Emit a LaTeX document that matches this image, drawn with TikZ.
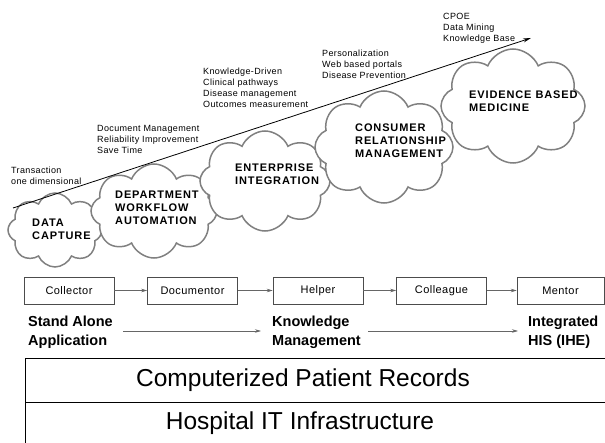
\documentclass[tikz,border=0pt]{standalone}
\usepackage{fontspec}
\setmainfont{Liberation Sans}
\usetikzlibrary{shapes.symbols,arrows.meta}
\begin{document}
\begin{tikzpicture}[x=1pt,y=-1pt,
  puff/.style={cloud, cloud puffs=8, cloud puff arc=135, cloud ignores aspect,
    draw=black!50, line width=1.5pt, fill=white, inner sep=0pt},
  note/.style={anchor=north west, inner sep=0pt, align=left,
    font=\fontsize{9}{11}\selectfont\addfontfeature{LetterSpace=4}},
  stage/.style={anchor=north west, inner sep=0pt, align=left,
    font=\fontsize{11}{13}\selectfont\bfseries\addfontfeature{LetterSpace=8}},
  role/.style={draw=black!70, line width=0.6pt, minimum height=27pt, minimum width=90pt,
    inner sep=0pt, font=\fontsize{11}{13}\selectfont\addfontfeature{LetterSpace=4}},
  flow/.style={draw=black!60, line width=0.6pt, -{Stealth[length=6pt,width=3.5pt]}},
  level/.style={anchor=north west, inner sep=0pt, align=left,
    font=\fontsize{14.5}{19}\selectfont\bfseries},
  layer/.style={inner sep=0pt, font=\fontsize{24.5}{28}\selectfont}
]
\useasboundingbox (0,0) rectangle (605,443);

% maturity stages as clouds
\node[puff, minimum width=94pt, minimum height=74pt] (c1) at (55,230) {};
\node[puff, minimum width=126pt, minimum height=94pt] (c2) at (154,211) {};
\node[puff, minimum width=130pt, minimum height=100pt] (c3) at (265,181) {};
\node[puff, minimum width=138pt, minimum height=112pt] (c4) at (384,147) {};
\node[puff, minimum width=144pt, minimum height=114pt] (c5) at (513,106) {};

\node[stage] (s1) at (32,219) {DATA\\CAPTURE};
\node[stage] (s2) at (115,191) {DEPARTMENT\\WORKFLOW\\AUTOMATION};
\node[stage] (s3) at (235,164) {ENTERPRISE\\INTEGRATION};
\node[stage] (s4) at (355,124) {CONSUMER\\RELATIONSHIP\\MANAGEMENT};
\node[stage] (s5) at (469,91) {EVIDENCE BASED\\MEDICINE};

% rising trend
\coordinate (t0) at (13,208);
\coordinate (t1) at (531,38);
\draw[line width=0.8pt, -{Stealth[length=8pt,width=4pt]}] (t0) -- (t1);

% capabilities gained at each stage
\node[note] (n1) at (11,167) {Transaction\\one dimensional};
\node[note] (n2) at (97,125) {Document Management\\Reliability Improvement\\Save Time};
\node[note] (n3) at (203,68) {Knowledge-Driven\\Clinical pathways\\Disease management\\Outcomes measurement};
\node[note] (n4) at (322,50) {Personalization\\Web based portals\\Disease Prevention};
\node[note] (n5) at (443,13) {CPOE\\Data Mining\\Knowledge Base};

% roles of the system
\node[role] (r1) at (69,290.5) {Collector};
\node[role] (r2) at (192.5,290.5) {Documentor};
\node[role] (r3) at (318,290.5) {Helper};
\node[role] (r4) at (441.5,290.5) {Colleague};
\node[role, minimum width=87pt] (r5) at (560.5,290.5) {Mentor};
\draw[flow] (r1) -- (r2);
\draw[flow] (r2) -- (r3);
\draw[flow] (r3) -- (r4);
\draw[flow] (r4) -- (r5);

% integration levels
\node[level] (l1) at (28,316) {Stand Alone\\Application};
\node[level] (l2) at (272,316) {Knowledge\\Management};
\node[level] (l3) at (528,316) {Integrated\\HIS (IHE)};
\coordinate (a1) at (123,331);
\coordinate (a2) at (261,331);
\coordinate (a3) at (368,331);
\coordinate (a4) at (518,331);
\draw[flow] (a1) -- (a2);
\draw[flow] (a3) -- (a4);

% foundation layers
\draw[line width=0.8pt] (25,443) -- (25,358) -- (605,358);
\draw[line width=0.8pt] (25,402) -- (605,402);
\node[layer] (p1) at (303,380) {Computerized Patient Records};
\node[layer] (p2) at (300,423) {Hospital IT Infrastructure};
\end{tikzpicture}
\end{document}
